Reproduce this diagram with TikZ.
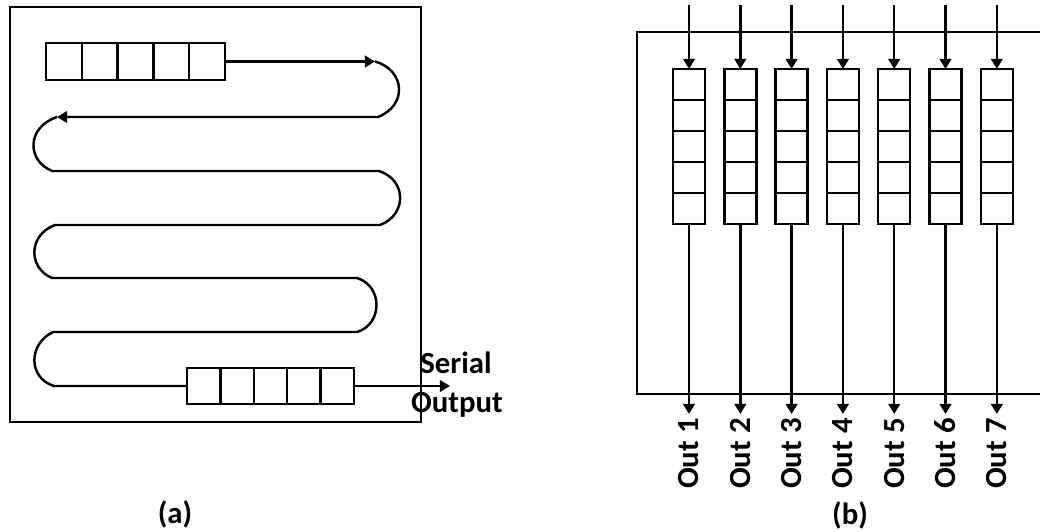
\documentclass[tikz,border=0pt]{standalone}
\usepackage{fontspec}
\setmainfont{Carlito}
\usetikzlibrary{arrows.meta,calc}

\tikzset{
  reg/.style={draw, line width=1.4pt, inner sep=0pt, outer sep=0pt},
  wire/.style={line width=1.4pt},
  arr/.style={wire, -{Triangle[length=5.8pt,width=6.6pt]}},
  lbl/.style={font=\fontsize{17.5}{21}\selectfont\bfseries, inner sep=0pt},
}

\begin{document}
\begin{tikzpicture}[x=0.02cm,y=-0.02cm]
		\clip (0,0) rectangle (1040,531);
		% (a) serial read-out
		\draw[wire] (10,7) rectangle (421,422);
		\node[reg, minimum width=3.58cm, minimum height=0.74cm] (regA) at (135.5,61.5) {};
		\node[reg, minimum width=3.34cm, minimum height=0.72cm] (regB) at (270.5,386) {};
		\foreach \r in {regA, regB} {
		  \foreach \k in {1,...,4} {
		    \draw[wire] ($(\r.north west)!\k/5!(\r.north east)$) -- ($(\r.south west)!\k/5!(\r.south east)$);
		  }
		}
		\coordinate (t1) at (375,61.5);
		\coordinate (t2) at (57,117);
		\coordinate (so) at (450,386);
		\draw[arr] (regA.east) -- (t1);
		\draw[arr] (t1) .. controls (405,70) and (408,105) .. (378,117) -- (t2);
		\draw[wire] (t2) .. controls (27,127) and (26,160) .. (52,171) -- (379,171)
		  .. controls (407,180) and (407,215) .. (380,225) -- (55,225)
		  .. controls (28,235) and (28,268) .. (52,278) -- (357,278)
		  .. controls (383,286) and (383,324) .. (357,332) -- (53,332)
		  .. controls (28,344) and (28,378) .. (54,386) -- (regB.west);
		\draw[arr] (regB.east) -- (so);
		\node[lbl, anchor=base] (serial) at (456,373) {Serial};
		\node[lbl, anchor=base] (output) at (457,412) {Output};
		\node[lbl] (capA) at (175,514) {(a)};
		% (b) parallel read-out
		\draw[wire] (1045,32) -- (637,32) -- (637,394) -- (1045,394);
		\foreach \i in {1,...,7} {
		  \pgfmathsetmacro{\cx}{689+51.3*(\i-1)}
		  \coordinate (in\i) at (\cx,5);
		  \coordinate (out\i) at (\cx,414);
		  \node[reg, minimum width=0.64cm, minimum height=3.1cm] (reg\i) at (\cx,146.5) {};
		  \foreach \k in {1,...,4} {
		    \draw[wire] ($(reg\i.north west)!\k/5!(reg\i.south west)$) -- ($(reg\i.north east)!\k/5!(reg\i.south east)$);
		  }
		  \draw[arr] (in\i) -- (reg\i.north);
		  \draw[arr] (reg\i.south) -- (out\i);
		  \node[lbl, rotate=90, anchor=east] (lbl\i) at (\cx,418) {Out \i};
		}
		\node[lbl] (capB) at (850,515) {(b)};
\end{tikzpicture}
\end{document}
